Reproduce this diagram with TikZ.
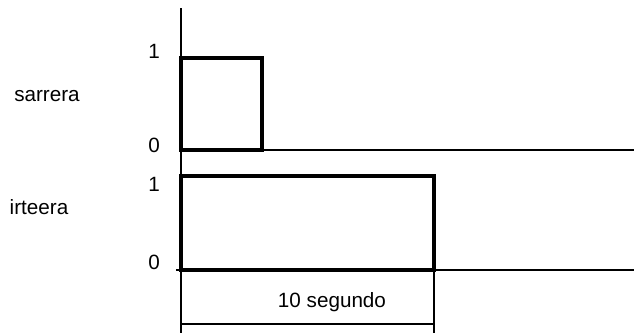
\documentclass[tikz,border=0pt]{standalone}
\usepackage{fontspec}
\setmainfont{Liberation Sans}
\usetikzlibrary{positioning}
\tikzset{
	sig/.style={line width=3pt, line join=miter, line cap=rect},
	axln/.style={line width=1.2pt},
	lbl/.style={font=\fontsize{15.5}{18}\selectfont, inner sep=0pt},
}

\begin{document}
\begin{tikzpicture}[x=0.75pt,y=-0.75pt]
	\useasboundingbox (0,0) rectangle (634,333);
	% time axis and base lines
	\draw[axln] (181,8) -- (181,333);
	\draw[axln] (262,150) -- (634,150);
	\draw[axln] (176,270) -- (634,270);
	% input pulse
	\draw[sig] (181,150) -- (181,58) -- (262,58) -- (262,150) -- cycle;
	% output pulse
	\draw[sig] (181,270) -- (181,176) -- (434,176) -- (434,270) -- cycle;
	% duration
	\draw[axln] (434,270) -- (434,333);
	\draw[axln] (181,324) -- (434,324);
	\node[lbl] (dur) at (332,302) {10 segundo};
	% levels
	\node[lbl] (in1) at (154,51) {1};
	\node[lbl] (in0) at (154,145) {0};
	\node[lbl] (out1) at (154,184) {1};
	\node[lbl] (out0) at (154,262) {0};
	\node[lbl] (inname) at (47,96) {sarrera};
	\node[lbl] (outname) at (39,207) {irteera};
\end{tikzpicture}
\end{document}
